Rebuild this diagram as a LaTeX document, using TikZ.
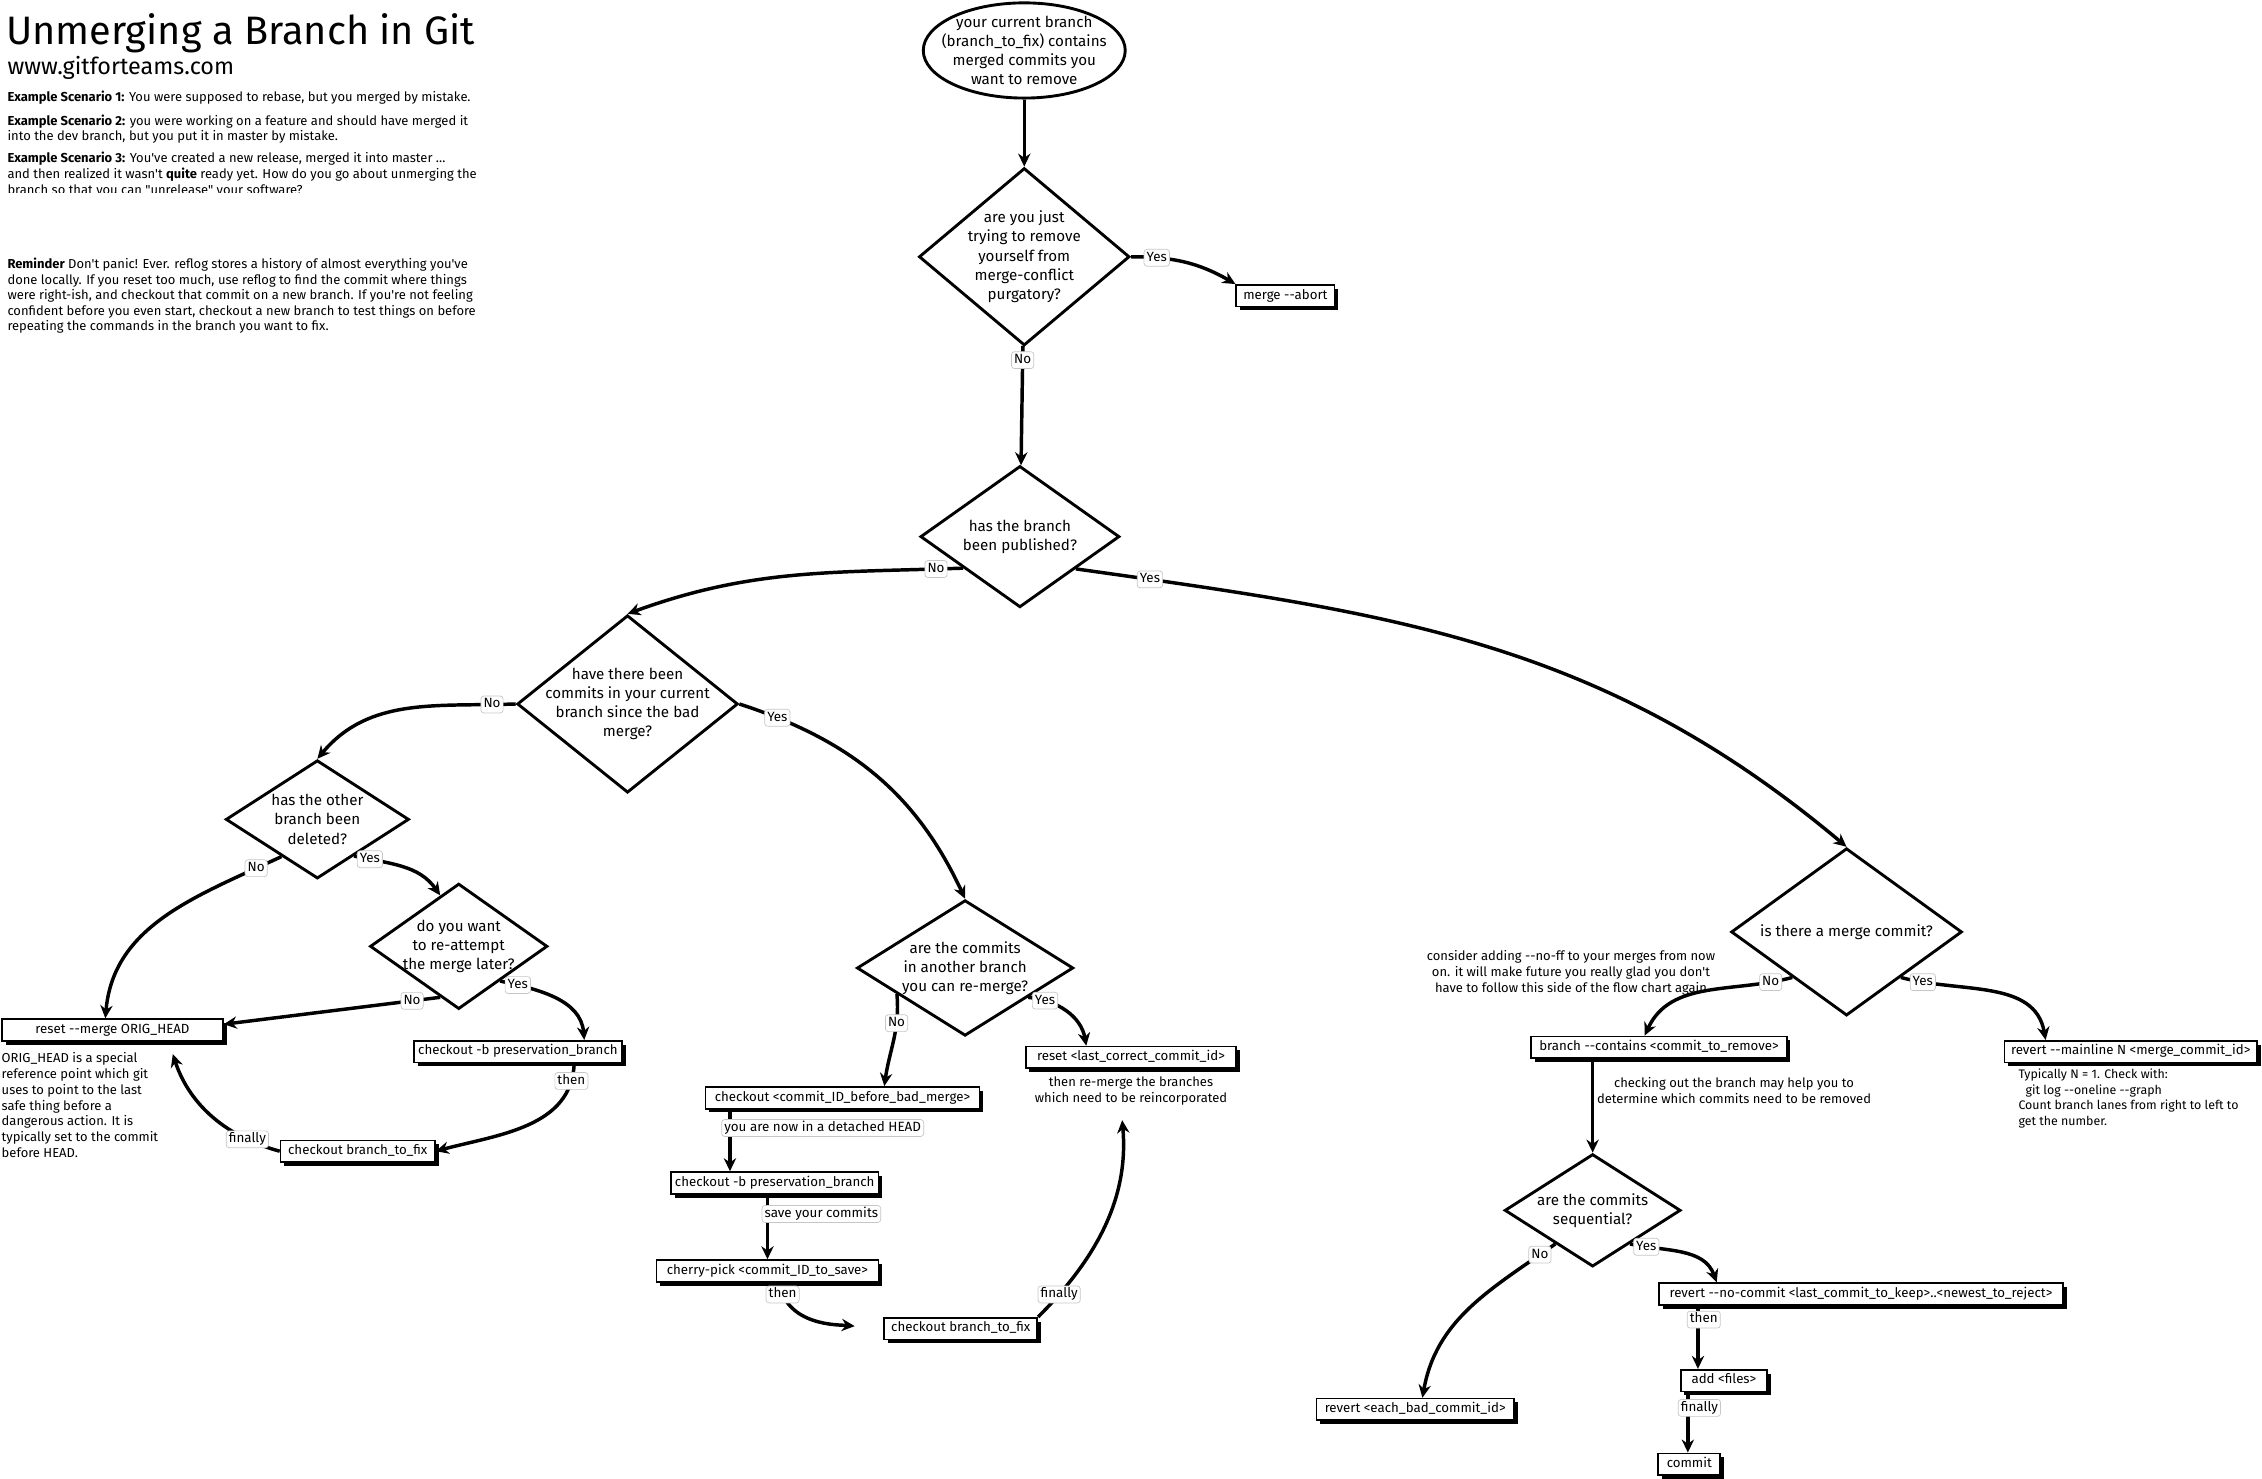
\documentclass[tikz,border=0pt]{standalone}
\usepackage{fontspec}
\setmainfont{Fira Sans}[Ligatures=TeXOff]
\usetikzlibrary{shapes.geometric,arrows.meta,shadows}
\begin{document}
\begin{tikzpicture}[x=1pt,y=1pt,
  arr/.style={line width=2.4pt,-{Stealth[length=9pt,width=8.5pt]}},
  dia/.style={diamond,draw,line width=2pt,fill=white,inner sep=0pt},
  dtext/.style={align=center,inner sep=0pt,font=\fontsize{10.5}{13.3}\selectfont},
  cmd/.style={draw,fill=white,line width=1.2pt,minimum height=15pt,inner sep=0pt,text height=6.6pt,text depth=2pt,font=\fontsize{9.2}{10}\selectfont,drop shadow={shadow xshift=2.6pt,shadow yshift=-2.6pt,fill=black,opacity=1}},
  lab/.style={draw=black!22,fill=white,rounded corners=2pt,line width=0.5pt,inner xsep=1.8pt,inner ysep=1.6pt,text height=6.6pt,text depth=1.9pt,font=\fontsize{9.3}{10}\selectfont},
  note/.style={align=center,inner sep=0pt,font=\fontsize{9}{11}\selectfont},
  intro/.style={anchor=base west,inner sep=0pt,font=\fontsize{9}{10}\selectfont}]
\useasboundingbox (0,0) rectangle (1568,1025);
\fill[white] (0,0) rectangle (1568,1025);

% ---------- header texts ----------
\node[intro,font=\fontsize{27.5}{30}\selectfont] (title) at (4,994) {Unmerging a Branch in Git};
\node[intro,font=\fontsize{16.2}{18}\selectfont] (url) at (5,973) {www.gitforteams.com};
\node[intro] (s1) at (5,954.5) {\textbf{Example Scenario 1:} You were supposed to rebase, but you merged by mistake.};
\node[intro] (s2a) at (5,938.3) {\textbf{Example Scenario 2:} you were working on a feature and should have merged it};
\node[intro] (s2b) at (5,927.3) {into the dev branch, but you put it in master by mistake.};
\node[intro] (s3a) at (5,912.5) {\textbf{Example Scenario 3:} You've created a new release, merged it into master \dots};
\node[intro] (s3b) at (5,901.4) {and then realized it wasn't \textbf{quite} ready yet. How do you go about unmerging the};
\begin{scope}
\clip (0,891.5) rectangle (400,899);
\node[intro] (s3c) at (5,890) {branch so that you can "unrelease" your software?};
\end{scope}
\node[intro] (r1) at (5,839) {\textbf{Reminder} Don't panic! Ever. reflog stores a history of almost everything you've};
\node[intro] (r2) at (5,828.1) {done locally. If you reset too much, use reflog to find the commit where things};
\node[intro] (r3) at (5,817.3) {were right-ish, and checkout that commit on a new branch. If you're not feeling};
\node[intro] (r4) at (5,806.6) {confident before you even start, checkout a new branch to test things on before};
\node[intro] (r5) at (5,795.8) {repeating the commands in the branch you want to fix.};

% ---------- decisions ----------
\node[ellipse,draw,line width=2pt,fill=white,inner sep=0pt,minimum width=140pt,minimum height=66pt] (n1) at (710,990) {};
\node[dtext] (n1t) at (n1) {your current branch\\(branch\_to\_fix) contains\\merged commits you\\want to remove};

\node[dia,minimum width=146pt,minimum height=123pt] (d1) at (710,847) {};
\node[dtext] (d1t) at (d1) {are you just\\trying to remove\\yourself from\\merge-conflict\\purgatory?};

\node[dia,minimum width=138pt,minimum height=98pt] (d2) at (707,653) {};
\node[dtext] (d2t) at (d2) {has the branch\\been published?};

\node[dia,minimum width=153pt,minimum height=123pt] (d3) at (435,537) {};
\node[dtext] (d3t) at (d3) {have there been\\commits in your current\\branch since the bad\\merge?};

\node[dia,minimum width=127pt,minimum height=82pt] (d4) at (220,457) {};
\node[dtext] (d4t) at (d4) {has the other\\branch been\\deleted?};

\node[dia,minimum width=123pt,minimum height=87pt] (d4b) at (318,369) {};
\node[dtext] (d4bt) at (d4b) {do you want\\to re-attempt\\the merge later?};

\node[dia,minimum width=150pt,minimum height=94pt] (d5) at (669,354) {};
\node[dtext] (d5t) at (d5) {are the commits\\in another branch\\you can re-merge?};

\node[dia,minimum width=160pt,minimum height=116pt] (d6) at (1280,379) {};
\node[dtext] (d6t) at (d6) {is there a merge commit?};

\node[dia,minimum width=122pt,minimum height=78pt] (d7) at (1104,186) {};
\node[dtext] (d7t) at (d7) {are the commits\\sequential?};

% ---------- commands ----------
\node[cmd,minimum width=68pt] (abort) at (891,820) {merge --abort};
\node[cmd,minimum width=153pt] (reset) at (78,311) {reset --merge ORIG\_HEAD};
\node[cmd,minimum width=144pt] (cob1) at (359,296) {checkout -b preservation\_branch};
\node[cmd,minimum width=107pt] (cobf1) at (248,227) {checkout branch\_to\_fix};
\node[cmd,minimum width=146pt] (resetlc) at (784,292) {reset <last\_correct\_commit\_id>};
\node[cmd,minimum width=190pt] (cobm) at (584,264) {checkout <commit\_ID\_before\_bad\_merge>};
\node[cmd,minimum width=144pt] (cob2) at (537,205) {checkout -b preservation\_branch};
\node[cmd,minimum width=154pt] (cp) at (532,144) {cherry-pick <commit\_ID\_to\_save>};
\node[cmd,minimum width=106pt] (cobf2) at (666,104) {checkout branch\_to\_fix};
\node[cmd,minimum width=177pt] (bc) at (1150,299) {branch --contains <commit\_to\_remove>};
\node[cmd,minimum width=175pt] (rm) at (1477,296) {revert --mainline N <merge\_commit\_id>};
\node[cmd,minimum width=137pt] (reb) at (981,48) {revert <each\_bad\_commit\_id>};
\node[cmd,minimum width=280pt] (rnc) at (1290,128) {revert --no-commit <last\_commit\_to\_keep>..<newest\_to\_reject>};
\node[cmd,minimum width=60pt] (add) at (1195,68) {add <files>};
\node[cmd,minimum width=43pt] (commit) at (1171,10) {commit};

% ---------- notes ----------
\node[note,anchor=west,align=left] (orignote) at (1,259) {ORIG\_HEAD is a special\\reference point which git\\uses to point to the last\\safe thing before a\\dangerous action. It is\\typically set to the commit\\before HEAD.};
\node[note] (resetnote) at (784,268.5) {then re-merge the branches\\which need to be reincorporated};
\node[note] (d6note) at (1089,350.5) {consider adding --no-ff to your merges from now\\on. it will make future you really glad you don't\\have to follow this side of the flow chart again};
\node[note] (bcnote) at (1202,269) {checking out the branch may help you to\\determine which commits need to be removed};
\node[note,anchor=west,align=left,font=\fontsize{8.6}{11}\selectfont] (rmnote) at (1399,263.5) {Typically N = 1. Check with:\\\hspace*{5pt}git log --oneline --graph\\Count branch lanes from right to left to\\get the number.};

% ---------- connectors ----------
\draw[arr] (n1) -- (d1);
\draw[arr] (d1.east) to[out=0,in=150] node[lab,pos=0.22]{Yes} (abort.north west);
\draw[arr] (d1) -- node[lab,pos=0.12]{No} (d2);
\draw[arr] (d2.209) to[out=182,in=20] node[lab,pos=0.07]{No} (d3.north);
\draw[arr] (d2.-30) to[out=-8,in=140] node[lab,pos=0.08]{Yes} (d6.north);
\draw[arr] (d3.west) to[out=182,in=50] node[lab,pos=0.1]{No} (d4.north);
\draw[arr] (d3.east) to[out=-18,in=115] node[lab,pos=0.12]{Yes} (d5.north);
\draw[arr] (d4.226) to[out=205,in=85] node[lab,pos=0.1]{No} ([xshift=-5pt]reset.north);
\draw[arr] (d4.-45) to[out=-12,in=125] node[lab,pos=0.15]{Yes} (d4b.110);
\draw[arr] (d4b.250) -- node[lab,pos=0.13]{No} ([yshift=4pt]reset.east);
\draw[arr] (d4b.-40) to[out=-12,in=95] node[lab,pos=0.15]{Yes} ([xshift=46pt]cob1.north);
\draw[arr] ([xshift=39pt]cob1.south) to[out=-92,in=15] node[lab,pos=0.1]{then} (cobf1.east);
\draw[arr,shorten >=9pt] (cobf1.west) to[out=165,in=-72] node[lab,pos=0.2]{finally} ([xshift=39pt]reset.south);
\draw[arr] (d5.201) to[out=-85,in=82] node[lab,pos=0.3]{No} ([xshift=29pt]cobm.north);
\draw[arr] (d5.-25) to[out=-5,in=100] node[lab,pos=0.2]{Yes} ([xshift=-31pt]resetlc.north);
\draw[arr] ([xshift=-78pt]cobm.south) -- node[lab,pos=0.3,anchor=west,xshift=-6pt]{you are now in a detached HEAD} ([xshift=-31pt]cob2.north);
\draw[arr] ([xshift=-5pt]cob2.south) -- node[lab,pos=0.3,anchor=west,xshift=-4pt]{save your commits} (cp.north);
\draw[arr,shorten >=20pt] ([xshift=8pt]cp.south) to[out=-80,in=175] node[lab,pos=0.1]{then} (cobf2.west);
\draw[arr,shorten >=10pt] (cobf2.north east) to[out=45,in=-85] node[lab,pos=0.12]{finally} ([xshift=-7pt]resetnote.south);
\draw[arr] (d6.220) to[out=195,in=65] node[lab,pos=0.12]{No} ([xshift=-10pt]bc.north);
\draw[arr] (d6.-40) to[out=-15,in=100] node[lab,pos=0.12]{Yes} ([xshift=-59pt]rm.north);
\draw[arr] ([xshift=-46pt]bc.south) -- (d7.north);
\draw[arr] (d7.222) to[out=215,in=80] node[lab,pos=0.08]{No} ([xshift=5pt]reb.north);
\draw[arr] (d7.-42) to[out=-12,in=110] node[lab,pos=0.15]{Yes} ([xshift=-100pt]rnc.north);
\draw[arr] ([xshift=-113pt]rnc.south) -- node[lab,pos=0.22,xshift=4pt]{then} ([xshift=-18pt]add.north);
\draw[arr] ([xshift=-25pt]add.south) -- node[lab,pos=0.26,xshift=8pt]{finally} ([xshift=-1pt]commit.north);
\end{tikzpicture}
\end{document}
